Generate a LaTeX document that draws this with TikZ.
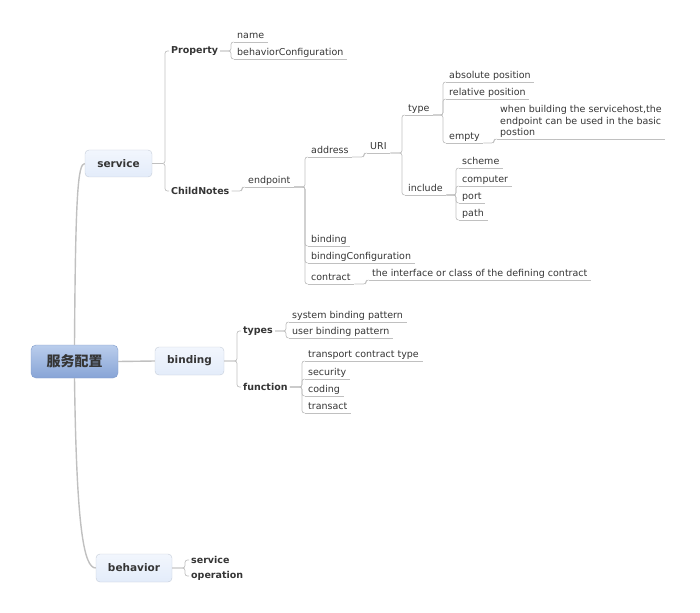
\documentclass[tikz,border=0pt]{standalone}
\usepackage{fontspec}
\setmainfont{DejaVu Sans}
\newfontfamily\cjk{Noto Sans CJK SC}
\definecolor{txt}{HTML}{353535}
\definecolor{ln}{HTML}{C0C0C0}
\definecolor{boxtop}{HTML}{F2F6FD}
\definecolor{boxbot}{HTML}{E3ECFA}
\definecolor{boxline}{HTML}{C4CCD8}
\definecolor{roottop}{HTML}{BACDEC}
\definecolor{rootbot}{HTML}{87A4D6}
\definecolor{rootline}{HTML}{7F9BCB}
\tikzset{
  conn/.style={draw=ln, line width=0.7pt, rounded corners=2.5pt},
  trunk/.style={draw=ln, line width=1.4pt},
  root/.style={draw=rootline, top color=roottop, bottom color=rootbot, rounded corners=5pt,
    minimum width=87pt, minimum height=33pt, inner sep=0pt, text=txt,
    font=\cjk\bfseries\fontsize{14}{16}\selectfont},
  topic/.style={draw=boxline, top color=boxtop, bottom color=boxbot, rounded corners=4pt, inner sep=0pt, text=txt,
    font=\fontsize{10.5}{12}\selectfont\bfseries},
  sub/.style={font=\fontsize{9.5}{11.5}\selectfont\bfseries, text=txt, inner xsep=2pt, anchor=west},
  leaf/.style={font=\fontsize{9.5}{11.5}\selectfont, text=txt, inner xsep=3.5pt, inner ysep=1pt,
    text depth=2pt, anchor=south west,
    append after command={(\tikzlastnode.south west) edge[conn] (\tikzlastnode.south east)}},
  note/.style={font=\fontsize{9.5}{11.5}\selectfont, text=txt, inner xsep=3.5pt, inner ysep=1pt,
    align=left, anchor=south west,
    append after command={(\tikzlastnode.south west) edge[conn] (\tikzlastnode.south east)}},
}
\begin{document}
\begin{tikzpicture}[x=1pt,y=-1pt]
\useasboundingbox (0,0) rectangle (700,612);
% main topics
\node[root] (root) at (74.5,361.5) {服务配置};
\node[topic, minimum width=67pt, minimum height=27pt] (service) at (118.5,163.5) {service};
\node[topic, minimum width=69pt, minimum height=28pt] (binding) at (189.5,361) {binding};
\node[topic, minimum width=76pt, minimum height=28pt] (behavior) at (134,568) {behavior};
% sub topics
\node[sub] (prop) at (169,51) {Property};
\node[sub] (childn) at (169,191) {ChildNotes};
\node[sub] (types) at (241,331) {types};
\node[sub] (func) at (241,387) {function};
\node[sub] (bsvc) at (189,560) {service};
\node[sub] (bop) at (189,576) {operation};
% service branch
\node[leaf] (name) at (233.5,42) {name};
\node[leaf] (bconf) at (233.5,59) {behaviorConfiguration};
\node[leaf] (endp) at (244.5,187) {endpoint};
\node[leaf] (addr) at (307.5,157) {address};
\node[leaf] (bind) at (307.5,246) {binding};
\node[leaf] (bindconf) at (307.5,263) {bindingConfiguration};
\node[leaf] (contr) at (307.5,284) {contract};
\node[leaf] (contrnote) at (368.5,280) {the interface or class of the defining contract};
\node[leaf] (uri) at (366.5,153) {URI};
\node[leaf] (type) at (404.5,115) {type};
\node[leaf] (incl) at (404.5,195) {include};
\node[leaf] (abs) at (445.5,82) {absolute position};
\node[leaf] (rel) at (445.5,99) {relative position};
\node[leaf] (empty) at (445.5,143) {empty};
\node[note] (emptynote) at (496.5,139) {when building the servicehost,the\\endpoint can be used in the basic\\postion};
\node[leaf] (scheme) at (458.5,168) {scheme};
\node[leaf] (comp) at (458.5,186) {computer};
\node[leaf] (port) at (458.5,203) {port};
\node[leaf] (path) at (458.5,220) {path};
% binding branch
\node[leaf] (sys) at (288.5,322) {system binding pattern};
\node[leaf] (usr) at (288.5,338) {user binding pattern};
\node[leaf] (trans) at (304.5,361) {transport contract type};
\node[leaf] (sec) at (304.5,379) {security};
\node[leaf] (cod) at (304.5,396) {coding};
\node[leaf] (tra) at (304.5,413) {transact};
% connectors
\draw[trunk] (root.north) .. controls +(1,-150) and +(-7,0) .. (service.west);
\draw[trunk] (root.south) .. controls +(2,150) and +(-12,0) .. (behavior.west);
\draw[trunk] (root.east) -- (binding.west);
\foreach \c in {prop,childn} \draw[conn] (service.east) -| ([xshift=-4pt]\c.west) -- (\c.west);
\foreach \c in {types,func} \draw[conn] (binding.east) -| ([xshift=-4pt]\c.west) -- (\c.west);
\foreach \c in {bsvc,bop} \draw[conn] (behavior.east) -| ([xshift=-4pt]\c.west) -- (\c.west);
\foreach \c in {name,bconf} \draw[conn] (prop.east) -| ([xshift=-2.5pt]\c.south west) -- (\c.south west);
\draw[conn] (childn.east) -| ([xshift=-2.5pt]endp.south west) -- (endp.south west);
\foreach \c in {addr,bind,bindconf,contr} \draw[conn] (endp.south east) -| ([xshift=-2.5pt]\c.south west) -- (\c.south west);
\draw[conn] (addr.south east) -| ([xshift=-2.5pt]uri.south west) -- (uri.south west);
\foreach \c in {type,incl} \draw[conn] (uri.south east) -| ([xshift=-2.5pt]\c.south west) -- (\c.south west);
\foreach \c in {abs,rel,empty} \draw[conn] (type.south east) -| ([xshift=-2.5pt]\c.south west) -- (\c.south west);
\draw[conn] (empty.south east) -| ([xshift=-2.5pt]emptynote.south west) -- (emptynote.south west);
\foreach \c in {scheme,comp,port,path} \draw[conn] (incl.south east) -| ([xshift=-2.5pt]\c.south west) -- (\c.south west);
\draw[conn] (contr.south east) -| ([xshift=-2.5pt]contrnote.south west) -- (contrnote.south west);
\foreach \c in {sys,usr} \draw[conn] (types.east) -| ([xshift=-2.5pt]\c.south west) -- (\c.south west);
\foreach \c in {trans,sec,cod,tra} \draw[conn] (func.east) -| ([xshift=-2.5pt]\c.south west) -- (\c.south west);
\end{tikzpicture}
\end{document}
